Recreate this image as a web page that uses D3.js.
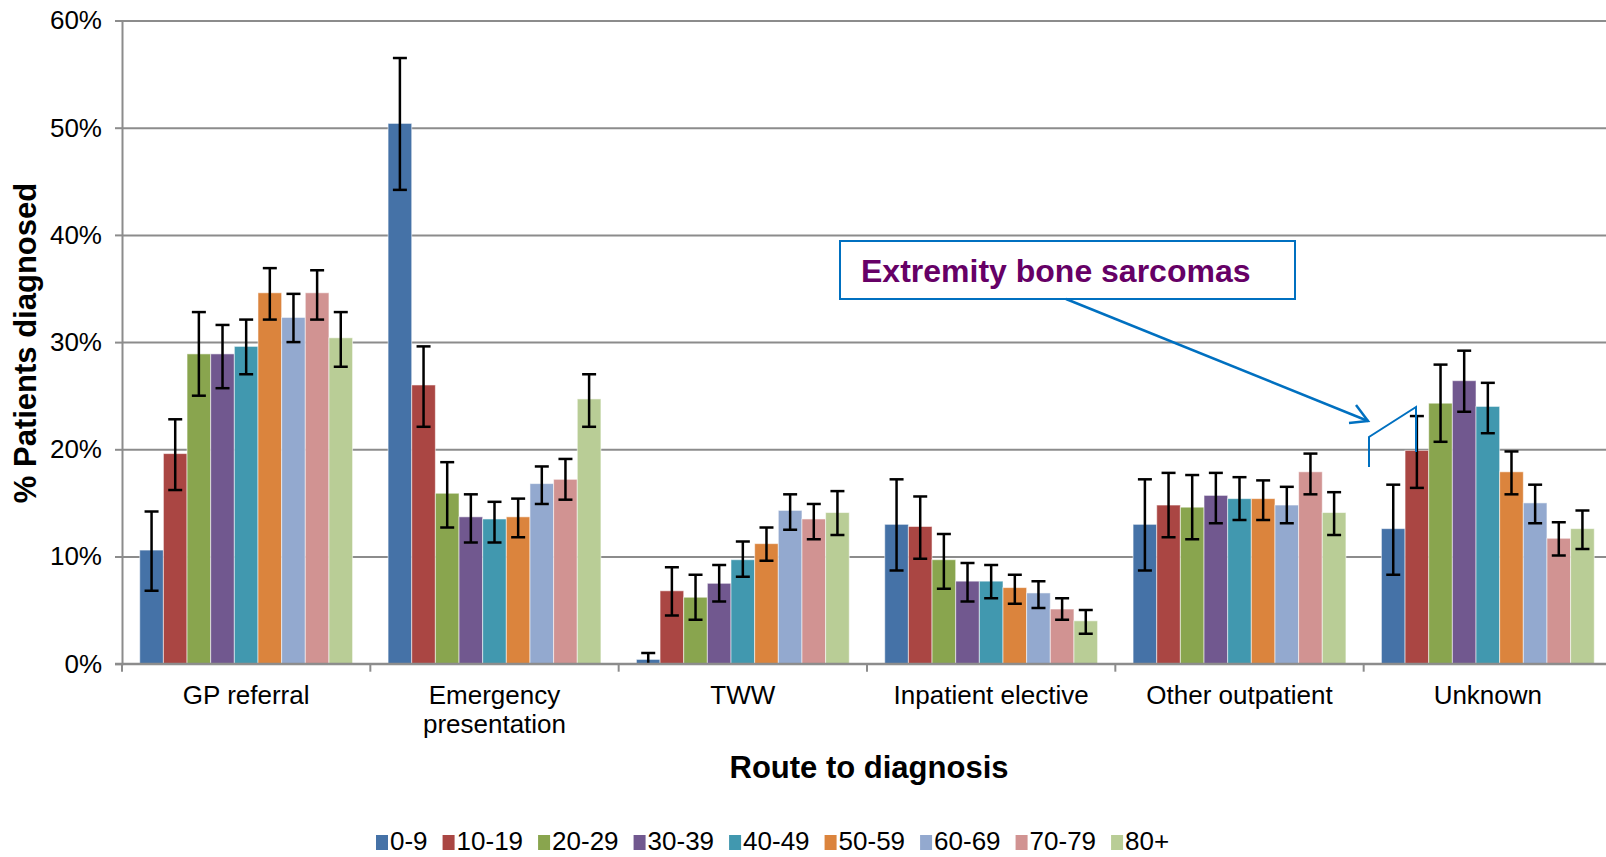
<!DOCTYPE html>
<html>
<head>
<meta charset="utf-8">
<script src="https://cdn.jsdelivr.net/npm/d3@7"></script>
<style>
  html, body { margin: 0; padding: 0; background: #fff; }
  svg { display: block; font-family: Arial, "Liberation Sans", sans-serif; }
</style>
</head>
<body>
<div id="chart"></div>
<script>
/*
 * Chart data (percent values).
 */
var routes = ['GP referral', 'Emergency presentation', 'TWW', 'Inpatient elective', 'Other outpatient', 'Unknown'];
var routeLines = [['GP referral'], ['Emergency', 'presentation'], ['TWW'], ['Inpatient elective'], ['Other outpatient'], ['Unknown']];
var ageGroups = ['0-9', '10-19', '20-29', '30-39', '40-49', '50-59', '60-69', '70-79', '80+'];
var colors = ['#4572A7', '#AA4643', '#89A54E', '#71588F', '#4198AF', '#DB843D', '#93A9CF', '#D19392', '#B9CD96'];
var yTicks = [0, 10, 20, 30, 40, 50, 60];

var values = [
    [10.6, 19.6, 28.9, 28.9, 29.6, 34.6, 32.3, 34.6, 30.4],
    [50.4, 26.0, 15.9, 13.7, 13.5, 13.7, 16.8, 17.2, 24.7],
    [0.4, 6.8, 6.2, 7.5, 9.7, 11.2, 14.3, 13.5, 14.1],
    [13.0, 12.8, 9.7, 7.7, 7.7, 7.1, 6.6, 5.1, 4.0],
    [13.0, 14.8, 14.6, 15.7, 15.4, 15.4, 14.8, 17.9, 14.1],
    [12.6, 19.9, 24.3, 26.4, 24.0, 17.9, 15.0, 11.7, 12.6]
];
var lower = [
    [6.8, 16.2, 25.0, 25.7, 27.0, 32.1, 30.0, 32.1, 27.7],
    [44.2, 22.1, 12.7, 11.3, 11.3, 11.8, 14.9, 15.3, 22.1],
    [-0.2, 4.5, 4.1, 5.8, 8.1, 9.6, 12.5, 11.6, 12.0],
    [8.7, 9.8, 7.0, 5.8, 6.1, 5.6, 5.2, 4.1, 2.8],
    [8.7, 11.8, 11.6, 13.1, 13.4, 13.4, 13.1, 15.8, 12.0],
    [8.3, 16.4, 20.7, 23.5, 21.5, 15.8, 13.1, 10.1, 10.7]
];
var upper = [
    [14.2, 22.8, 32.8, 31.6, 32.1, 36.9, 34.5, 36.7, 32.8],
    [56.5, 29.6, 18.8, 15.8, 15.1, 15.4, 18.4, 19.1, 27.0],
    [1.0, 9.0, 8.3, 9.2, 11.4, 12.7, 15.8, 14.9, 16.1],
    [17.2, 15.6, 12.1, 9.4, 9.2, 8.3, 7.7, 6.1, 5.0],
    [17.2, 17.8, 17.6, 17.8, 17.4, 17.1, 16.5, 19.6, 16.0],
    [16.7, 23.1, 27.9, 29.2, 26.2, 19.8, 16.7, 13.2, 14.3]
];

/*
 * Layout.
 */
var width = 1606, height = 857;
var plot = { left: 122, right: 1612, top: 20.5, bottom: 663.7 };
var gridColor = '#8c8c8c';

var svg = d3.select('#chart').append('svg')
    .attr('width', width)
    .attr('height', height);

/*
 * Scales.
 */
var x0 = d3.scaleBand()
    .domain(routes)
    .range([plot.left, plot.right])
    .paddingInner(0)
    .paddingOuter(0);

var x1 = d3.scaleBand()
    .domain(ageGroups)
    .range([0, x0.bandwidth()])
    .paddingInner(0)
    .paddingOuter(0.75);

var y = d3.scaleLinear()
    .domain([0, 60])
    .range([plot.bottom, plot.top]);

var color = d3.scaleOrdinal().domain(ageGroups).range(colors);

/*
 * Gridlines.
 */
svg.append('g')
    .attr('class', 'grid')
    .attr('transform', 'translate(' + plot.left + ',0)')
    .call(d3.axisLeft(y).tickValues(yTicks).tickSize(-(plot.right - plot.left)).tickFormat(''))
    .call(g => g.select('.domain').remove())
    .call(g => g.selectAll('line').attr('stroke', gridColor).attr('stroke-width', 2));

/*
 * Bars.
 */
svg.append('clipPath').attr('id', 'plot-clip')
    .append('rect')
    .attr('x', plot.left).attr('y', 0)
    .attr('width', plot.right - plot.left).attr('height', plot.bottom);

var groups = svg.append('g').selectAll('g')
    .data(routes)
    .join('g')
    .attr('transform', d => 'translate(' + x0(d) + ',0)');

groups.selectAll('rect')
    .data((d, i) => ageGroups.map((a, j) => ({ age: a, value: values[i][j] })))
    .join('rect')
    .attr('x', d => x1(d.age))
    .attr('y', d => y(d.value))
    .attr('width', x1.bandwidth())
    .attr('height', d => y(0) - y(d.value))
    .attr('fill', d => color(d.age))
    .attr('stroke', '#ffffff')
    .attr('stroke-opacity', 0.55)
    .attr('stroke-width', 1);

/*
 * Error bars.
 */
var capHalf = 7;
var errors = svg.append('g').attr('clip-path', 'url(#plot-clip)');
routes.forEach(function(route, i) {
    ageGroups.forEach(function(age, j) {
        var cx = x0(route) + x1(age) + x1.bandwidth() / 2;
        var g = errors.append('g')
            .attr('stroke', '#000')
            .attr('stroke-width', 2.5);
        g.append('line')
            .attr('x1', cx).attr('x2', cx)
            .attr('y1', y(upper[i][j])).attr('y2', y(lower[i][j]));
        [upper[i][j], lower[i][j]].forEach(function(v) {
            g.append('line')
                .attr('x1', cx - capHalf).attr('x2', cx + capHalf)
                .attr('y1', y(v)).attr('y2', y(v));
        });
    });
});

/*
 * Y axis.
 */
svg.append('g')
    .attr('transform', 'translate(' + plot.left + ',0)')
    .call(d3.axisLeft(y).tickValues(yTicks).tickSize(7).tickPadding(13).tickFormat(d => d + '%'))
    .call(g => g.select('.domain').attr('stroke', gridColor).attr('stroke-width', 2))
    .call(g => g.selectAll('.tick line').attr('stroke', gridColor).attr('stroke-width', 2))
    .call(g => g.selectAll('.tick text')
        .attr('fill', '#000')
        .style('font-family', 'Arial, "Liberation Sans", sans-serif')
        .style('font-size', '26px'));

/*
 * X axis: baseline, boundary ticks and category labels.
 */
var xAxis = svg.append('g');
xAxis.append('line')
    .attr('x1', plot.left - 7).attr('x2', plot.right)
    .attr('y1', y(0)).attr('y2', y(0))
    .attr('stroke', gridColor).attr('stroke-width', 2);

xAxis.selectAll('line.boundary')
    .data(routes)
    .join('line')
    .attr('class', 'boundary')
    .attr('x1', d => x0(d)).attr('x2', d => x0(d))
    .attr('y1', y(0)).attr('y2', y(0) + 8)
    .attr('stroke', gridColor).attr('stroke-width', 2);

xAxis.selectAll('text.cat')
    .data(routes)
    .join('text')
    .attr('class', 'cat')
    .attr('x', d => x0(d) + x0.bandwidth() / 2)
    .attr('y', y(0) + 40)
    .attr('text-anchor', 'middle')
    .attr('font-size', 26)
    .attr('fill', '#000')
    .each(function(d, i) {
        var t = d3.select(this);
        routeLines[i].forEach(function(line, k) {
            t.append('tspan')
                .attr('x', x0(d) + x0.bandwidth() / 2)
                .attr('dy', k === 0 ? 0 : 29)
                .text(line);
        });
    });

/*
 * Axis titles.
 */
svg.append('text')
    .attr('x', 869)
    .attr('y', 778)
    .attr('text-anchor', 'middle')
    .attr('font-size', 31)
    .attr('font-weight', 'bold')
    .attr('fill', '#000')
    .text('Route to diagnosis');

svg.append('text')
    .attr('transform', 'translate(36,343) rotate(-90)')
    .attr('text-anchor', 'middle')
    .attr('font-size', 31)
    .attr('font-weight', 'bold')
    .attr('fill', '#000')
    .text('% Patients diagnosed');

/*
 * Legend.
 */
var legend = svg.append('g').attr('class', 'legend');
var legendX = 376, legendY = 850, swatch = 12, legendGap = 15;
ageGroups.forEach(function(age) {
    var item = legend.append('g').attr('transform', 'translate(' + legendX + ',0)');
    item.append('rect')
        .attr('x', 0).attr('y', legendY - 15)
        .attr('width', swatch).attr('height', 15)
        .attr('fill', color(age));
    var label = item.append('text')
        .attr('x', swatch + 2)
        .attr('y', legendY)
        .attr('font-size', 26)
        .attr('fill', '#000')
        .text(age);
    legendX += swatch + 2 + label.node().getComputedTextLength() + legendGap;
});

/*
 * Annotation box with arrow.
 */
var blue = '#0070C0';
var note = svg.append('g').attr('class', 'annotation');
note.append('rect')
    .attr('x', 840).attr('y', 241)
    .attr('width', 455).attr('height', 58)
    .attr('fill', '#fff')
    .attr('stroke', blue)
    .attr('stroke-width', 2);
note.append('text')
    .attr('x', 861).attr('y', 282)
    .attr('font-size', 32)
    .attr('font-weight', 'bold')
    .attr('fill', '#660066')
    .text('Extremity bone sarcomas');
note.append('line')
    .attr('x1', 1066).attr('y1', 299)
    .attr('x2', 1368).attr('y2', 421)
    .attr('stroke', blue).attr('stroke-width', 2.5);
note.append('path')
    .attr('d', 'M1356,405 L1368,421 L1349,423')
    .attr('fill', 'none')
    .attr('stroke', blue).attr('stroke-width', 2.5);
note.append('path')
    .attr('d', 'M1369,467 L1369,437 L1416,407 L1416,452')
    .attr('fill', 'none')
    .attr('stroke', blue).attr('stroke-width', 2);
</script>
</body>
</html>
